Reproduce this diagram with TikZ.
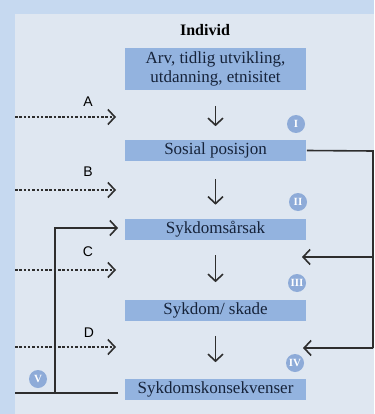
\documentclass[tikz,border=0pt]{standalone}
\usepackage{fontspec}
\setmainfont{Liberation Serif}
\newfontfamily\labelfont{Liberation Sans}
\usetikzlibrary{arrows.meta}
\definecolor{outerblue}{HTML}{C6D9F0}
\definecolor{panelgrey}{HTML}{DFE7F1}
\definecolor{boxblue}{HTML}{93B3DF}
\definecolor{dotblue}{HTML}{8EABD8}
\definecolor{textnavy}{HTML}{16233A}
\definecolor{linegrey}{HTML}{2E2E2E}

\begin{document}
\begin{tikzpicture}
                    [x=1pt, y=-1pt, line width=1.6pt, draw=linegrey,
                     >={Straight Barb[length=7pt,width=15pt]},
                     stage/.style={fill=boxblue, text=textnavy, minimum width=181pt,
                                   minimum height=21pt, inner sep=0pt, font=\fontsize{17}{19}\selectfont},
                     dotlabel/.style={circle, fill=dotblue, text=white, inner sep=0pt,
                                      minimum size=18pt, font=\bfseries\fontsize{11}{11}\selectfont},
                     letter/.style={font=\labelfont\fontsize{14}{14}\selectfont, text=black},
                     dashedarrow/.style={->, dash pattern=on 2.5pt off 1.8pt, draw=linegrey}]
                    \useasboundingbox (0,0) rectangle (374,414);
                    \fill[outerblue] (0,0) rectangle (374,414);
                    \fill[panelgrey] (15,14) rectangle (374,414);
                    \node[font=\bfseries\fontsize{16}{19}\selectfont, text=black] (title) at (205,30) {Individ};
                    \node[stage, minimum height=42pt, align=center] (arv) at (215.5,69) {Arv, tidlig utvikling,\\utdanning, etnisitet};
                    \node[stage] (sosial) at (215.5,150.5) {Sosial posisjon};
                    \node[stage] (aarsak) at (215.5,229) {Sykdomsårsak};
                    \node[stage] (skade) at (215.5,310.5) {Sykdom/ skade};
                    \node[stage] (konsekvens) at (215.5,389.5) {Sykdomskonsekvenser};
                    % stage arrows
                    \draw[->, shorten <=15pt, shorten >=13pt] (arv) -- (sosial);
                    \draw[->, shorten <=17pt, shorten >=13pt] (sosial) -- (aarsak);
                    \draw[->, shorten <=15pt, shorten >=17pt] (aarsak) -- (skade);
                    \draw[->, shorten <=14pt, shorten >=16pt] (skade) -- (konsekvens);
                    % roman numerals
                    \node[dotlabel] (i) at (296,124) {I};
                    \node[dotlabel] (ii) at (298,202) {II};
                    \node[dotlabel] (iii) at (297,283) {III};
                    \node[dotlabel] (iv) at (295,363) {IV};
                    \node[dotlabel] (v) at (38,379) {V};
                    % influences from outside
                    \coordinate (a0) at (15,117);  \coordinate (a1) at (116,117);
                    \coordinate (b0) at (15,190);  \coordinate (b1) at (116,190);
                    \coordinate (c0) at (15,270);  \coordinate (c1) at (116,270);
                    \coordinate (d0) at (15,347);  \coordinate (d1) at (116,347);
                    \draw[dashedarrow] (a0) -- (a1);
                    \draw[dashedarrow] (b0) -- (b1);
                    \draw[dashedarrow] (c0) -- (c1);
                    \draw[dashedarrow] (d0) -- (d1);
                    \node[letter] (la) at (88,102) {A};
                    \node[letter] (lb) at (88,172) {B};
                    \node[letter] (lc) at (88,252) {C};
                    \node[letter] (ld) at (89,333) {D};
                    % feedback on the right
                    \coordinate (rt) at (373,151);
                    \coordinate (rm) at (373,257);
                    \coordinate (rb) at (373,348);
                    \coordinate (r3) at (302,257);
                    \coordinate (r4) at (303,348);
                    \draw (sosial.east) -- (rt) -- (rb);
                    \draw[->] (rm) -- (r3);
                    \draw[->] (rb) -- (r4);
                    % feedback on the left
                    \coordinate (lo) at (15,393);
                    \coordinate (lv) at (55,393);
                    \coordinate (lt) at (55,228);
                    \coordinate (lh) at (118,228);
                    \draw[shorten <=6pt] ([yshift=-3.5pt]konsekvens.west) -- (lo);
                    \draw[->] (lv) -- (lt) -- (lh);
                \end{tikzpicture}
\end{document}
